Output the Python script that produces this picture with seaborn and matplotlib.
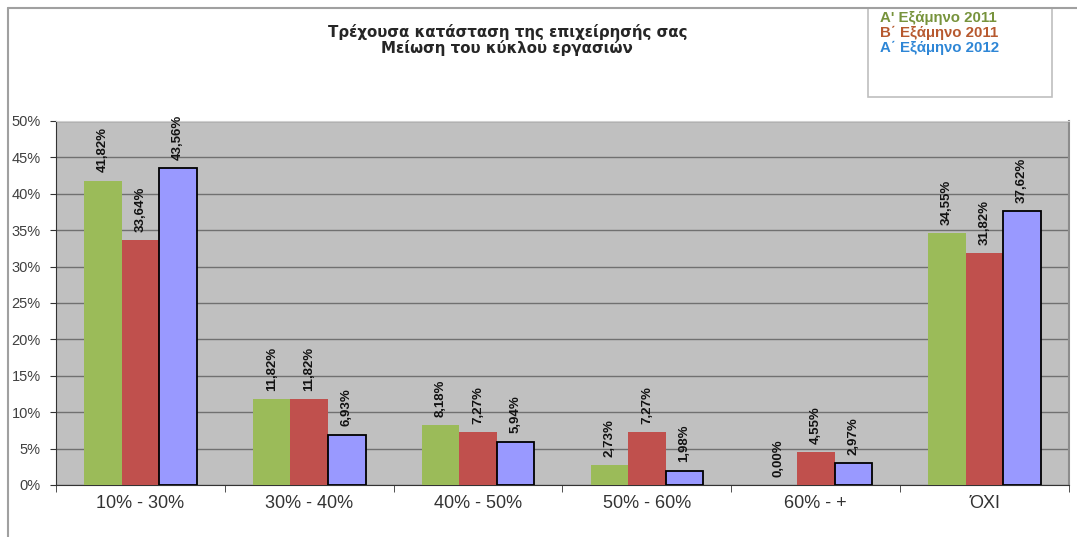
import pandas as pd
import matplotlib.pyplot as plt
import seaborn as sns
from matplotlib import font_manager
from matplotlib.patches import Rectangle
from matplotlib.lines import Line2D

# Δεδομένα του γραφήματος
categories = ['10% - 30%', '30% - 40%', '40% - 50%', '50% - 60%', '60% - +', 'ΌΧΙ']
series_names = ["Α' Εξάμηνο 2011", "Β΄ Εξάμηνο 2011", "Α΄ Εξάμηνο 2012"]
a_2011 = [41.82, 11.82, 8.18, 2.73, 0.00, 34.55]
b_2011 = [33.64, 11.82, 7.27, 7.27, 4.55, 31.82]
a_2012 = [43.56, 6.93, 5.94, 1.98, 2.97, 37.62]
y_ticks = [0, 5, 10, 15, 20, 25, 30, 35, 40, 45, 50]

bar_colors = ['#9BBB59', '#C0504D', '#9999FF']
legend_colors = ['#77933C', '#B7592F', '#2E86D6']

df = pd.DataFrame({
    'cat': categories * 3,
    'series': [series_names[0]] * 6 + [series_names[1]] * 6 + [series_names[2]] * 6,
    'value': a_2011 + b_2011 + a_2012,
})

sns.set_style('ticks')
plt.rcParams['font.family'] = ['Liberation Sans', 'DejaVu Sans']

# στενή γραμματοσειρά για τις ετικέτες, αν υπάρχει
names = {f.name for f in font_manager.fontManager.ttflist}
if 'Liberation Sans Narrow' in names:
    lab_font, lab_size = 'Liberation Sans Narrow', 11.5
else:
    lab_font, lab_size = 'Liberation Sans', 9.5

fig = plt.figure(figsize=(10.77, 5.37), dpi=100)
ax = fig.add_axes([56 / 1077, 1 - 485 / 537, (1069 - 56) / 1077, (485 - 121) / 537])
ax.set_facecolor('#C0C0C0')

sns.barplot(data=df, x='cat', y='value', hue='series', palette=bar_colors,
            width=0.667, saturation=1, legend=False, ax=ax, zorder=3)

for i, cont in enumerate(ax.containers):
    for p in cont:
        if i == 2:
            # μπλε μπάρες με μαύρο περίγραμμα
            p.set_edgecolor('black')
            p.set_linewidth(1.3)
        else:
            p.set_linewidth(0)
    labels = [f'{v:.2f}%'.replace('.', ',') for v in cont.datavalues]
    ax.bar_label(cont, labels=labels, rotation=90, padding=6, fontsize=lab_size,
                 fontweight='bold', family=[lab_font, 'DejaVu Sans'], color='#111111')

ax.set_ylim(0, 50)
ax.set_xlim(-0.5, 5.5)
ax.set_yticks(y_ticks)
ax.set_yticklabels([f'{t}%' for t in y_ticks], fontsize=10.5, color='#404040')
ax.set_xticks(range(6))
ax.set_xticklabels(categories, fontsize=13, color='#333333')
ax.set_xticks([i - 0.5 for i in range(7)], minor=True)
ax.tick_params(axis='x', which='major', length=0, pad=7)
ax.tick_params(axis='x', which='minor', length=5, color='#333333')
ax.tick_params(axis='y', length=4, color='#333333', pad=7)
ax.set_xlabel('')
ax.set_ylabel('')

ax.grid(axis='y', color='#707070', linewidth=1, zorder=0)
ax.set_axisbelow(True)
for s in ['left', 'bottom']:
    ax.spines[s].set_color('#333333')
ax.spines['right'].set_color('#8C8C8C')
ax.spines['right'].set_linewidth(1.5)
ax.spines['top'].set_color('#D0D0D0')

# τίτλος
title_font = ['DejaVu Sans']
fig.text(0.471, 1 - 32 / 537, 'Τρέχουσα κατάσταση της επιχείρησής σας',
         ha='center', va='center', fontsize=10.8, fontweight='bold', family=title_font)
fig.text(0.471, 1 - 48 / 537, 'Μείωση του κύκλου εργασιών',
         ha='center', va='center', fontsize=10.8, fontweight='bold', family=title_font)

# υπόμνημα σε πλαίσιο
fig.patches.append(Rectangle((868 / 1077, 1 - 97 / 537), 184 / 1077, 89 / 537,
                             transform=fig.transFigure, facecolor='white',
                             edgecolor='#BFBFBF', linewidth=1.2))
for i, (name, col) in enumerate(zip(series_names, legend_colors)):
    fig.text(880 / 1077, 1 - (18 + 15 * i) / 537, name, color=col,
             fontsize=10.8, fontweight='bold', va='center', ha='left')

# εξωτερικό πλαίσιο
fig.lines.append(Line2D([8 / 1077, 8 / 1077], [0, 1 - 8 / 537], transform=fig.transFigure,
                        color='#A0A0A0', linewidth=1.5))
fig.lines.append(Line2D([8 / 1077, 1], [1 - 8 / 537, 1 - 8 / 537], transform=fig.transFigure,
                        color='#A0A0A0', linewidth=1.5))

fig.savefig('out.png', dpi=100, facecolor='white')
